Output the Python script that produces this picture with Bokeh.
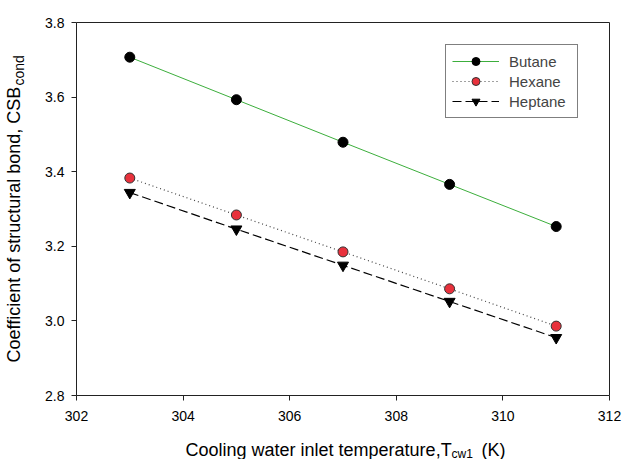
import math
from bokeh.plotting import figure
from bokeh.models import (Label, Range1d, FixedTicker, PrintfTickFormatter, Legend,
                          LinearAxis)
from bokeh.embed import file_html
from bokeh.resources import INLINE

temps = [303, 305, 307, 309, 311]
butane = [3.707, 3.593, 3.479, 3.366, 3.253]
hexane = [3.383, 3.284, 3.185, 3.086, 2.986]
heptane = [3.344, 3.246, 3.149, 3.052, 2.955]
x_ticks = [302, 304, 306, 308, 310, 312]
y_ticks = [2.8, 3.0, 3.2, 3.4, 3.6, 3.8]

FONT = "Liberation Sans"
X0, X1, Y0, Y1 = 302, 312, 2.8, 3.8
W, H = 632, 459
# plot box in canvas pixels
BL, BR, BT, BB = 76, 609, 22, 395
kx = (X1 - X0) / (BR - BL)
ky = (Y1 - Y0) / (BB - BT)

p = figure(width=W, height=H, output_backend="svg", toolbar_location=None,
           x_range=Range1d(X0 - BL * kx, X1 + (W - BR) * kx),
           y_range=Range1d(Y0 - (H - BB) * ky, Y1 + BT * ky),
           frame_width=W, frame_height=H,
           min_border_left=0, min_border_right=0, min_border_top=0, min_border_bottom=0,
           x_axis_location=None, y_axis_location=None)
p.grid.visible = False
p.outline_line_color = None
p.background_fill_color = "white"
p.border_fill_color = "white"


def mk_axis(loc, fixed, ticks, bounds, labels, standoff=7):
    ax = LinearAxis(fixed_location=fixed, ticker=FixedTicker(ticks=ticks), bounds=bounds)
    ax.axis_line_color = "#222222"
    ax.axis_line_width = 1
    ax.minor_tick_out = 0
    ax.minor_tick_in = 0
    if labels:
        ax.major_tick_out = 5
        ax.major_tick_in = 0
        ax.major_tick_line_color = "#222222"
        ax.major_label_text_font = FONT
        ax.major_label_text_font_size = "14px"
        ax.major_label_text_color = "black"
        ax.major_label_standoff = standoff
    else:
        ax.major_tick_line_color = None
        ax.major_label_text_font_size = "0px"
        ax.major_label_text_color = None
    p.add_layout(ax, loc)
    return ax


mk_axis("below", Y0, x_ticks, (X0, X1), True, standoff=10)
yl = mk_axis("left", X0, y_ticks, (Y0, Y1), True, standoff=7)
yl.formatter = PrintfTickFormatter(format="%.1f")
mk_axis("above", Y1, x_ticks, (X0, X1), False)
mk_axis("right", X1, y_ticks, (Y0, Y1), False)

r1 = p.line(temps, butane, line_color="#3cae3c", line_width=1)
s1 = p.scatter(temps, butane, marker="circle", size=10, fill_color="black", line_color="black")
r2 = p.line(temps, hexane, line_color="#444444", line_width=1.2, line_dash="1 3")
s2 = p.scatter(temps, hexane, marker="circle", size=10, fill_color="#e8313c", line_color="#333333")
r3 = p.line(temps, heptane, line_color="black", line_width=1.2, line_dash="9 4")
s3 = p.scatter(temps, heptane, marker="inverted_triangle", size=11, fill_color="black", line_color="black")

legend = Legend(items=[("Butane", [r1, s1]), ("Hexane", [r2, s2]), ("Heptane", [r3, s3])],
                location=(445, H - 118), glyph_width=47, glyph_height=20, label_height=17,
                label_width=62, label_standoff=10, spacing=0, padding=6, margin=0,
                label_text_font=FONT, label_text_font_size="15px",
                border_line_color="black", border_line_width=1,
                background_fill_color="white", background_fill_alpha=1)
p.add_layout(legend, "center")


def lab(text, px, py, size, angle=0.0):
    p.add_layout(Label(x=px, y=py, x_units="canvas", y_units="canvas",
                       text=text, text_font=FONT,
                       text_font_size=size, text_align="left",
                       text_baseline="alphabetic", angle=angle, text_color="black"))


# x axis label with subscript
lab("Cooling water inlet temperature,T", 185, 449, "18px")
lab("cw1", 451, 453, "12px")
lab("(K)", 481, 449, "18px")

# y axis label with subscript (rotated)
lab("Coefficient of structural bond, CSB", 13.5, 362, "18px", math.pi / 2)
lab("cond", 18, 85, "14px", math.pi / 2)

open("out.html", "w").write(file_html(p, INLINE))
